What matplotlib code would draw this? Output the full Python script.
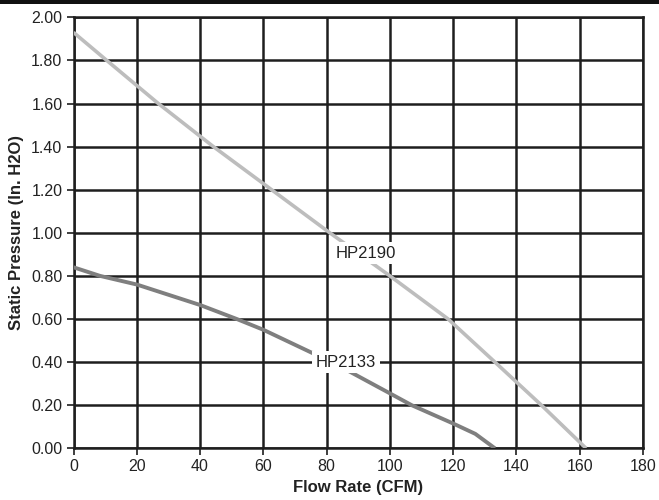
import matplotlib
matplotlib.use("Agg")
import matplotlib.pyplot as plt
from matplotlib.patches import Rectangle

plt.rcParams['font.family'] = ['Liberation Sans', 'DejaVu Sans']

# Data
hp2190_cfm = [0, 10.5, 26.8, 44.2, 62.6, 81.0, 100.0, 118.4, 133.2, 147.9, 162.0]
hp2190_pressure = [1.93, 1.80, 1.60, 1.40, 1.20, 1.00, 0.80, 0.60, 0.40, 0.20, 0.00]

hp2133_cfm = [0, 8.4, 20, 40, 51.6, 60, 75.8, 81.5, 87.4, 100, 106.9, 120, 127, 133.2]
hp2133_pressure = [0.84, 0.80, 0.76, 0.665, 0.60, 0.55, 0.44, 0.40, 0.355, 0.255, 0.20, 0.115, 0.067, 0.0]

x_ticks = [0, 20, 40, 60, 80, 100, 120, 140, 160, 180]
y_ticks = [0.0, 0.2, 0.4, 0.6, 0.8, 1.0, 1.2, 1.4, 1.6, 1.8, 2.0]

labels = ["HP2190", "HP2133"]
label_pos = [(92.3, 0.905), (86.1, 0.40)]

fig = plt.figure(figsize=(6.59, 5.0), dpi=100)
ax = fig.add_axes([73.5 / 659, 1 - 448.3 / 500, (643 - 73.5) / 659, (448.3 - 17.3) / 500])

# top black band
fig.patches.append(Rectangle((0, 1 - 4 / 500), 1, 4 / 500, transform=fig.transFigure,
                             facecolor='#111111', edgecolor='none', zorder=10))

ax.set_xlim(0, 180)
ax.set_ylim(0, 2.0)
ax.set_xticks(x_ticks)
ax.set_yticks(y_ticks)
ax.set_xticklabels([str(v) for v in x_ticks])
ax.set_yticklabels([f"{v:.2f}" for v in y_ticks])

ax.grid(True, color='#1e1e1e', linewidth=1.8, zorder=1)
for s in ax.spines.values():
    s.set_color('#1e1e1e')
    s.set_linewidth(1.8)
ax.tick_params(axis='both', direction='out', length=5, width=1.2, color='#1e1e1e',
               labelsize=11.5, labelcolor='#222222', pad=3, top=False, right=False)
ax.set_axisbelow(True)

ax.plot(hp2190_cfm, hp2190_pressure, color='#bdbdbd', linewidth=2.6, zorder=3,
        solid_capstyle='butt')
ax.plot(hp2133_cfm, hp2133_pressure, color='#7f7f7f', linewidth=2.8, zorder=3,
        solid_capstyle='butt')

for lab, (lx, ly) in zip(labels, label_pos):
    ax.text(lx, ly, lab, fontsize=12, color='#222222', ha='center', va='center', zorder=5,
            bbox=dict(facecolor='white', edgecolor='none', pad=2.5))

ax.set_xlabel("Flow Rate (CFM)", fontsize=12, fontweight='bold', color='#222222', labelpad=4)
ax.set_ylabel("Static Pressure (In. H2O)", fontsize=12, fontweight='bold', color='#222222', labelpad=5)

fig.savefig("out.png", dpi=100, facecolor='white')
